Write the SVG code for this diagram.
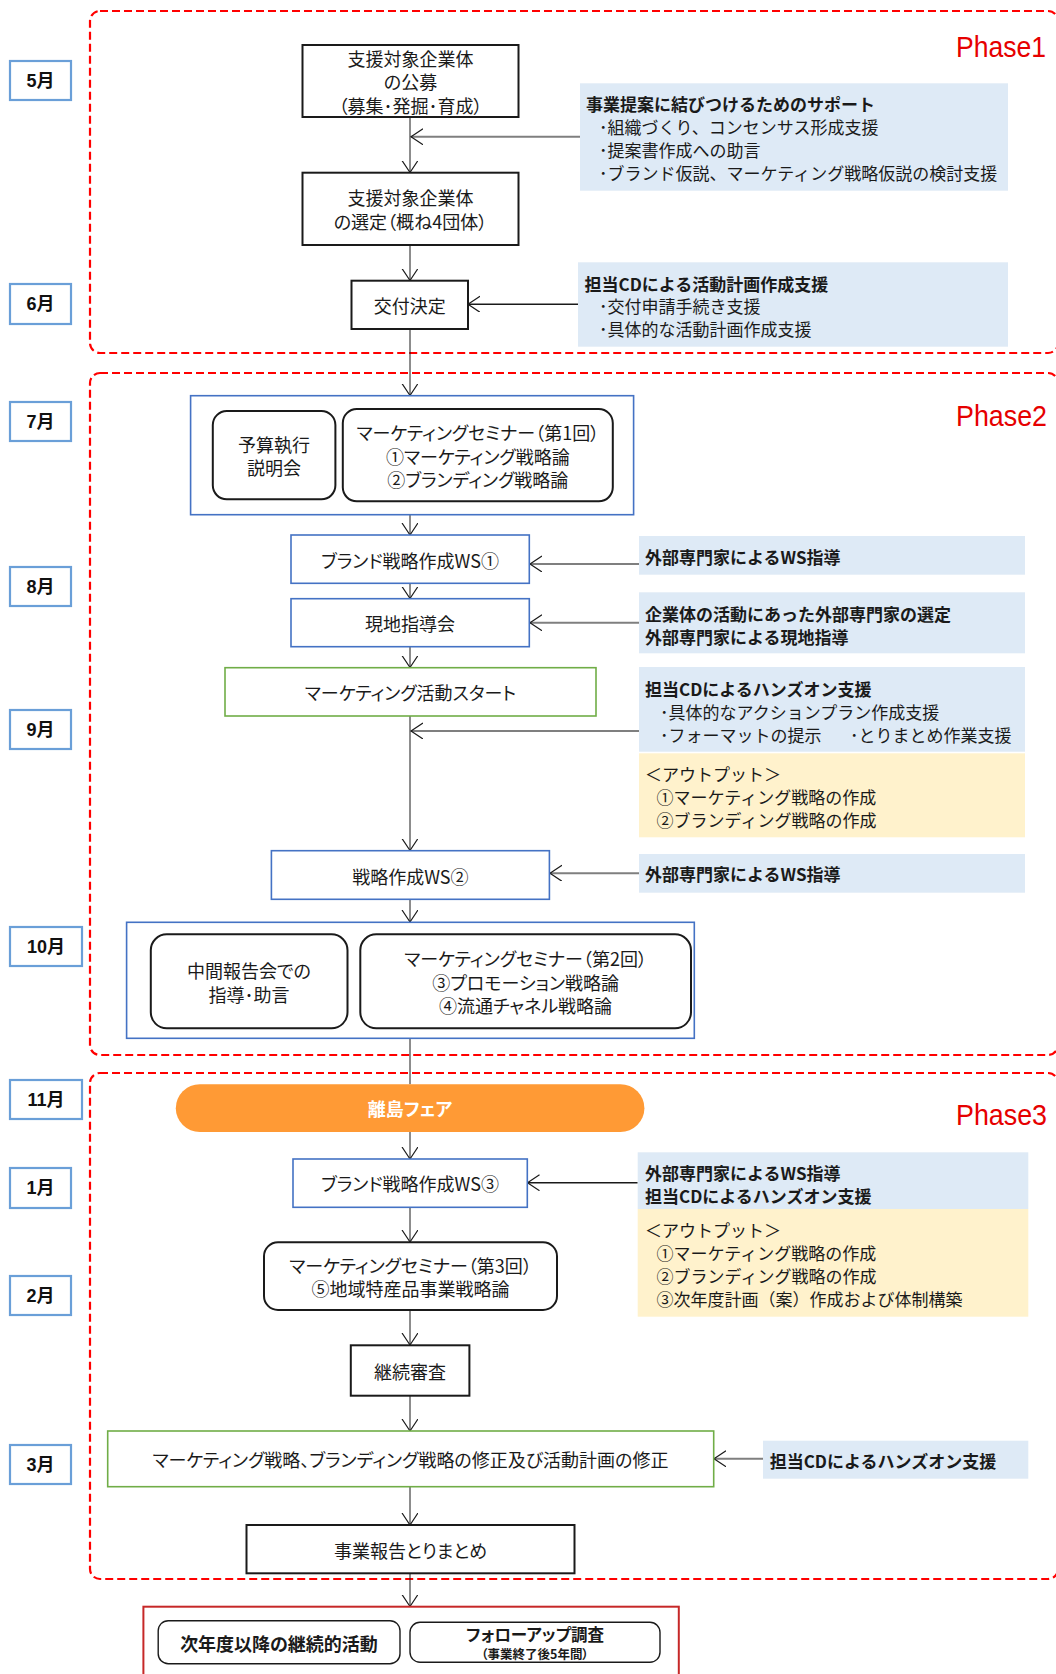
<svg xmlns="http://www.w3.org/2000/svg" width="1056" height="1674" viewBox="0 0 1056 1674">
<style>
.t{font-family:"Noto Sans CJK JP","Noto Sans",sans-serif;font-size:17px;fill:#1a1a1a;dominant-baseline:central;}
.n{font-size:18px;font-feature-settings:"palt" 1;}
.p{font-feature-settings:"palt" 1;}
.c{text-anchor:middle;}
.b{font-weight:bold;}
.box{fill:#fff;stroke:#1a1a1a;stroke-width:2;}
.blue{fill:#fff;stroke:#4472c4;stroke-width:1.6;}
.green{fill:#fff;stroke:#70ad47;stroke-width:1.6;}
.phase{fill:none;stroke:#ff0000;stroke-width:2.2;stroke-dasharray:8 4;}
.month{fill:#fff;stroke:#6a9fd8;stroke-width:2.2;}
.mt{font-family:"Liberation Sans","Noto Sans CJK JP",sans-serif;font-size:18px;font-weight:bold;fill:#111;text-anchor:middle;dominant-baseline:central;}
.ph{font-family:"Liberation Sans",sans-serif;font-size:30px;fill:#e60000;text-anchor:end;}
.cb{fill:#deeaf6;}
.cy{fill:#fff2cc;}
.conn{stroke:#1a1a1a;stroke-width:1;fill:none;}
.side{stroke:#7f7f7f;stroke-width:2;fill:none;}
.sideb{stroke:#1a1a1a;stroke-width:1.4;fill:none;}
</style>
<defs>
<marker id="ah" markerUnits="userSpaceOnUse" markerWidth="14" markerHeight="18" refX="12" refY="8" orient="auto">
<path d="M0,0 L12,8 L0,16" fill="none" stroke="#1a1a1a" stroke-width="1.2"/>
</marker>
</defs>

<!-- Phase frames -->
<g id="phase1">
<rect class="phase" x="90" y="11" width="968" height="342" rx="10"/>
<text class="ph" x="1046" y="57" textLength="90" lengthAdjust="spacingAndGlyphs">Phase1</text>
</g>
<g id="phase2">
<rect class="phase" x="90" y="373" width="968" height="682" rx="10"/>
<text class="ph" x="1047" y="426" textLength="91" lengthAdjust="spacingAndGlyphs">Phase2</text>
</g>
<g id="phase3">
<rect class="phase" x="90" y="1073" width="968" height="506" rx="10"/>
<text class="ph" x="1047" y="1125" textLength="91" lengthAdjust="spacingAndGlyphs">Phase3</text>
</g>

<!-- Month labels -->
<g id="m5"><rect class="month" x="10" y="61" width="61" height="39"/><text class="mt" x="40.5" y="80.5">5月</text></g>
<g id="m6"><rect class="month" x="10" y="284" width="61" height="40"/><text class="mt" x="40.5" y="304">6月</text></g>
<g id="m7"><rect class="month" x="10" y="402" width="61" height="39"/><text class="mt" x="40.5" y="421.5">7月</text></g>
<g id="m8"><rect class="month" x="10" y="567" width="61" height="39"/><text class="mt" x="40.5" y="586.5">8月</text></g>
<g id="m9"><rect class="month" x="10" y="710" width="61" height="39"/><text class="mt" x="40.5" y="729.5">9月</text></g>
<g id="m10"><rect class="month" x="10" y="927" width="72" height="39"/><text class="mt" x="46" y="946.5">10月</text></g>
<g id="m11"><rect class="month" x="10" y="1080" width="72" height="39"/><text class="mt" x="46" y="1099.5">11月</text></g>
<g id="m1"><rect class="month" x="10" y="1168" width="61" height="40"/><text class="mt" x="40.5" y="1188">1月</text></g>
<g id="m2"><rect class="month" x="10" y="1276" width="61" height="39"/><text class="mt" x="40.5" y="1295.5">2月</text></g>
<g id="m3"><rect class="month" x="10" y="1445" width="61" height="39"/><text class="mt" x="40.5" y="1464.5">3月</text></g>

<!-- Connectors -->
<g id="connectors">
<line class="conn" x1="410" y1="117" x2="410" y2="172.5" marker-end="url(#ah)"/>
<line class="conn" x1="410" y1="245" x2="410" y2="280.5" marker-end="url(#ah)"/>
<line class="conn" x1="410" y1="329" x2="410" y2="395.5" marker-end="url(#ah)"/>
<line class="conn" x1="410" y1="514.7" x2="410" y2="535" marker-end="url(#ah)"/>
<line class="conn" x1="410" y1="583.3" x2="410" y2="598.5" marker-end="url(#ah)"/>
<line class="conn" x1="410" y1="646.7" x2="410" y2="667.5" marker-end="url(#ah)"/>
<line class="conn" x1="410" y1="716" x2="410" y2="850.5" marker-end="url(#ah)"/>
<line class="conn" x1="410" y1="899.3" x2="410" y2="922" marker-end="url(#ah)"/>
<line class="conn" x1="410" y1="1038.3" x2="410" y2="1084.3"/>
<line class="conn" x1="410" y1="1132" x2="410" y2="1159" marker-end="url(#ah)"/>
<line class="conn" x1="410" y1="1207.3" x2="410" y2="1242" marker-end="url(#ah)"/>
<line class="conn" x1="410" y1="1310" x2="410" y2="1345" marker-end="url(#ah)"/>
<line class="conn" x1="410" y1="1395.7" x2="410" y2="1431" marker-end="url(#ah)"/>
<line class="conn" x1="410" y1="1486.7" x2="410" y2="1525" marker-end="url(#ah)"/>
<line class="conn" x1="410" y1="1573.3" x2="410" y2="1606.5" marker-end="url(#ah)"/>
<line class="side" x1="580" y1="136.7" x2="411" y2="136.7" marker-end="url(#ah)"/>
<line class="sideb" x1="578" y1="304.3" x2="468" y2="304.3" marker-end="url(#ah)"/>
<line class="side" x1="639" y1="564" x2="530" y2="564" marker-end="url(#ah)"/>
<line class="side" x1="639" y1="622.7" x2="530" y2="622.7" marker-end="url(#ah)"/>
<line class="side" x1="639" y1="731" x2="411" y2="731" marker-end="url(#ah)"/>
<line class="side" x1="639" y1="873.3" x2="550" y2="873.3" marker-end="url(#ah)"/>
<line class="sideb" x1="637.7" y1="1182.7" x2="527.5" y2="1182.7" marker-end="url(#ah)"/>
<line class="side" x1="763" y1="1458.7" x2="714" y2="1458.7" marker-end="url(#ah)"/>
</g>

<!-- Phase1 nodes -->
<g id="koubo">
<rect class="box" x="302.5" y="45" width="216" height="72"/>
<text class="t n c" x="410.5" y="57.5">支援対象企業体</text>
<text class="t n c" x="410.5" y="81">の公募</text>
<text class="t n c" x="410.5" y="104.5">（募集･発掘･育成）</text>
</g>
<g id="sentei">
<rect class="box" x="302.5" y="172.7" width="216" height="72.3"/>
<text class="t n c" x="410.5" y="197">支援対象企業体</text>
<text class="t n c" x="410.5" y="220.5">の選定（概ね4団体）</text>
</g>
<g id="koufu">
<rect class="box" x="351.5" y="280.7" width="116.5" height="48.3"/>
<text class="t n c" x="409.7" y="305">交付決定</text>
</g>
<g id="call1">
<rect class="cb" x="580" y="83.3" width="428" height="107.4"/>
<text class="t b" x="586" y="103.5">事業提案に結びつけるためのサポート</text>
<text class="t" x="599" y="126.5">･組織づくり、コンセンサス形成支援</text>
<text class="t" x="599" y="149.5">･提案書作成への助言</text>
<text class="t" x="599" y="172.5">･ブランド仮説、マーケティング戦略仮説の検討支援</text>
</g>
<g id="call2">
<rect class="cb" x="578" y="262.3" width="430" height="84.4"/>
<text class="t b" x="584.5" y="283">担当CDによる活動計画作成支援</text>
<text class="t" x="599" y="305.7">･交付申請手続き支援</text>
<text class="t" x="599" y="328.5">･具体的な活動計画作成支援</text>
</g>

<!-- Phase2 nodes -->
<g id="cont1">
<rect class="blue" x="190.6" y="395.7" width="443" height="119"/>
<rect class="box" x="212.8" y="411" width="122.6" height="88.3" rx="14"/>
<text class="t n c" x="274" y="443.5">予算執行</text>
<text class="t n c" x="274" y="467">説明会</text>
<rect class="box" x="342.8" y="409" width="270" height="92.3" rx="14"/>
<text class="t n c" x="477.8" y="432">マーケティングセミナー（第1回）</text>
<text class="t n c" x="477.8" y="455.5">①マーケティング戦略論</text>
<text class="t n c" x="477.8" y="479">②ブランディング戦略論</text>
</g>
<g id="ws1">
<rect class="blue" x="291" y="535" width="238.3" height="48.3"/>
<text class="t n c" x="410" y="559.5">ブランド戦略作成WS①</text>
</g>
<g id="call3">
<rect class="cb" x="639" y="536" width="386" height="38.7"/>
<text class="t b" x="645" y="556">外部専門家によるWS指導</text>
</g>
<g id="genchi">
<rect class="blue" x="291" y="598.7" width="238.3" height="48"/>
<text class="t n c" x="410" y="622.7">現地指導会</text>
</g>
<g id="call4">
<rect class="cb" x="639" y="592.3" width="386" height="61"/>
<text class="t b" x="645" y="613">企業体の活動にあった外部専門家の選定</text>
<text class="t b" x="645" y="636">外部専門家による現地指導</text>
</g>
<g id="start">
<rect class="green" x="225" y="667.7" width="371" height="48.3"/>
<text class="t n c" x="410.5" y="692">マーケティング活動スタート</text>
</g>
<g id="call5">
<rect class="cb" x="639" y="667" width="386" height="84.7"/>
<text class="t b" x="645" y="688">担当CDによるハンズオン支援</text>
<text class="t" x="660" y="711">･具体的なアクションプラン作成支援</text>
<text class="t" x="660" y="734">･フォーマットの提示</text>
<text class="t" x="850" y="734">･とりまとめ作業支援</text>
</g>
<g id="out1">
<rect class="cy" x="639" y="753.3" width="386" height="84"/>
<text class="t" x="645" y="773.3">＜アウトプット＞</text>
<text class="t" x="656.6" y="796.5">①マーケティング戦略の作成</text>
<text class="t" x="656.6" y="819.5">②ブランディング戦略の作成</text>
</g>
<g id="ws2">
<rect class="blue" x="271.4" y="850.7" width="278" height="48.6"/>
<text class="t n c" x="410.4" y="876">戦略作成WS②</text>
</g>
<g id="call6">
<rect class="cb" x="639" y="854" width="386" height="38.7"/>
<text class="t b" x="645" y="873.3">外部専門家によるWS指導</text>
</g>
<g id="cont2">
<rect class="blue" x="126.6" y="922.3" width="567.7" height="116"/>
<rect class="box" x="150.8" y="934.3" width="196.7" height="94" rx="16"/>
<text class="t n c" x="249" y="970">中間報告会での</text>
<text class="t n c" x="249" y="993.5">指導･助言</text>
<rect class="box" x="360.3" y="934.3" width="330.7" height="94" rx="16"/>
<text class="t n c" x="525.6" y="958">マーケティングセミナー（第2回）</text>
<text class="t n c" x="525.6" y="981.5">③プロモーション戦略論</text>
<text class="t n c" x="525.6" y="1005">④流通チャネル戦略論</text>
</g>

<!-- Phase3 nodes -->
<g id="fair">
<rect x="175.8" y="1084.3" width="468.6" height="47.7" rx="24" fill="#ff9a35"/>
<text class="t n c b" x="410" y="1108" style="fill:#fff">離島フェア</text>
</g>
<g id="ws3">
<rect class="blue" x="293" y="1159" width="234.3" height="48.3"/>
<text class="t n c" x="410" y="1183">ブランド戦略作成WS③</text>
</g>
<g id="call7">
<rect class="cb" x="637.7" y="1152.3" width="390.6" height="56.7"/>
<text class="t b" x="645" y="1172.3">外部専門家によるWS指導</text>
<text class="t b" x="645" y="1195.3">担当CDによるハンズオン支援</text>
</g>
<g id="out2">
<rect class="cy" x="637.7" y="1209" width="390.6" height="107.7"/>
<text class="t" x="645" y="1229.5">＜アウトプット＞</text>
<text class="t" x="656.6" y="1252.5">①マーケティング戦略の作成</text>
<text class="t" x="656.6" y="1275.5">②ブランディング戦略の作成</text>
<text class="t" x="656.6" y="1298.5">③次年度計画（案）作成および体制構築</text>
</g>
<g id="sem3">
<rect class="box" x="264" y="1242.3" width="293" height="67.7" rx="14"/>
<text class="t n c" x="410.5" y="1264.5">マーケティングセミナー（第3回）</text>
<text class="t n c" x="410.5" y="1288">⑤地域特産品事業戦略論</text>
</g>
<g id="keizoku">
<rect class="box" x="350.8" y="1345.3" width="118.6" height="50.4"/>
<text class="t n c" x="410" y="1370.5">継続審査</text>
</g>
<g id="shusei">
<rect class="green" x="107.7" y="1431" width="606" height="55.7"/>
<text class="t n c" x="410.5" y="1459">マーケティング戦略、ブランディング戦略の修正及び活動計画の修正</text>
</g>
<g id="call8">
<rect class="cb" x="763" y="1440.7" width="265.3" height="38"/>
<text class="t b" x="769.7" y="1460">担当CDによるハンズオン支援</text>
</g>
<g id="houkoku">
<rect class="box" x="246.5" y="1525" width="328" height="48.3"/>
<text class="t n c" x="410.5" y="1549.5">事業報告とりまとめ</text>
</g>
<g id="future">
<rect x="143.4" y="1606.7" width="535.4" height="100" fill="#fff" stroke="#c62828" stroke-width="2"/>
<rect class="box" x="158.2" y="1620.7" width="241.8" height="43" rx="10" style="stroke-width:1.4"/>
<text class="t n c b" x="279" y="1643">次年度以降の継続的活動</text>
<rect class="box" x="410" y="1622.3" width="250" height="40" rx="10" style="stroke-width:1.4"/>
<text class="t p c b" x="535" y="1633.5" style="font-size:16.5px">フォローアップ調査</text>
<text class="t p c b" x="535" y="1653" style="font-size:12.5px">（事業終了後5年間）</text>
</g>
</svg>
